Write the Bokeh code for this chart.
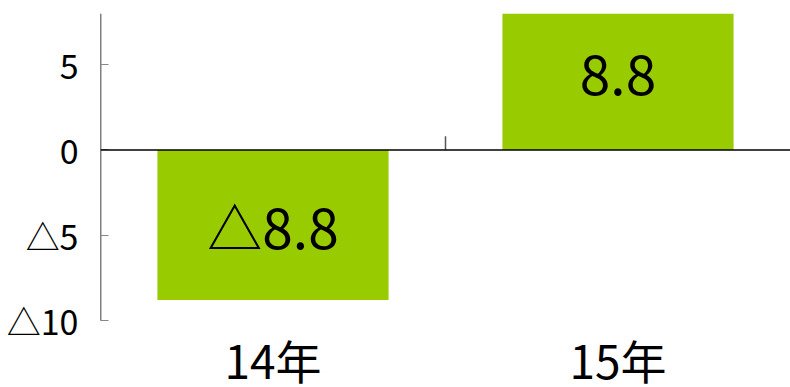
from bokeh.plotting import figure
from bokeh.models import ColumnDataSource, Range1d, FixedTicker, Span
from bokeh.core.properties import value
from bokeh.embed import file_html
from bokeh.resources import INLINE

# Year-on-year change by year
categories = ["14年", "15年"]
changes = [-8.8, 8.8]
y_ticks = [-10, -5, 0, 5]
Y_MIN, Y_MAX = -10, 8

FONT = "Noto Sans CJK JP"
BAR_COLOR = "#99CC00"

# layout: value axis spans 307 px; the frame runs on to the bottom edge
AXIS_PX = 307
PX_PER_UNIT = AXIS_PX / (Y_MAX - Y_MIN)
BELOW_PX = 67
FRAME_Y_MIN = Y_MIN - BELOW_PX / PX_PER_UNIT
LABEL_Y = Y_MIN - 38 / PX_PER_UNIT


def fmt(v):
    # negative numbers are written with a leading triangle
    s = f"{abs(v):g}"
    return "△" + s if v < 0 else s


xs = [i + 0.5 for i in range(len(categories))]
src = ColumnDataSource(dict(
    x=xs,
    top=changes,
    label=[fmt(v) for v in changes],
    mid=[v / 2 for v in changes],
))
cat_src = ColumnDataSource(dict(x=xs, y=[LABEL_Y] * len(xs), name=categories))

p = figure(width=790, height=387, output_backend="svg", toolbar_location=None,
           x_range=Range1d(0, len(categories)),
           y_range=Range1d(FRAME_Y_MIN, Y_MAX),
           min_border_left=100, min_border_right=0, min_border_top=13,
           min_border_bottom=0)
p.outline_line_color = None
p.grid.visible = False
p.background_fill_color = "white"
p.border_fill_color = "white"
p.xaxis.visible = False

p.vbar(x="x", top="top", bottom=0, width=0.67, source=src,
       fill_color=BAR_COLOR, line_color=None)

p.text(x="x", y="mid", text="label", source=src, text_align="center",
       text_baseline="middle", text_font=value(FONT), text_font_size="55px",
       text_color="black")

# category names under the value axis
p.text(x="x", y="y", text="name", source=cat_src, text_align="center",
       text_baseline="middle", text_font=value(FONT), text_font_size="46px",
       text_color="black")

# zero line and the category divider tick on it
p.add_layout(Span(location=0, dimension="width", line_color="black", line_width=1.5))
div_src = ColumnDataSource(dict(x=[1.0], y0=[0], y1=[0.8]))
p.segment(x0="x", y0="y0", x1="x", y1="y1", source=div_src,
          line_color="#555555", line_width=1.5)

# value axis line only over the value range
p.segment(x0=[0], y0=[Y_MIN], x1=[0], y1=[Y_MAX], line_color="black", line_width=1.5)

ya = p.yaxis[0]
ya.ticker = FixedTicker(ticks=y_ticks)
ya.major_label_overrides = {t: fmt(t) for t in y_ticks}
ya.major_label_text_font = FONT
ya.major_label_text_font_size = "34px"
ya.major_label_text_color = "black"
ya.major_label_standoff = 22
ya.axis_line_color = None
ya.major_tick_in = 8
ya.major_tick_out = 0
ya.major_tick_line_color = "#888888"
ya.minor_tick_line_color = None

open("out.html", "w").write(file_html(p, INLINE))
